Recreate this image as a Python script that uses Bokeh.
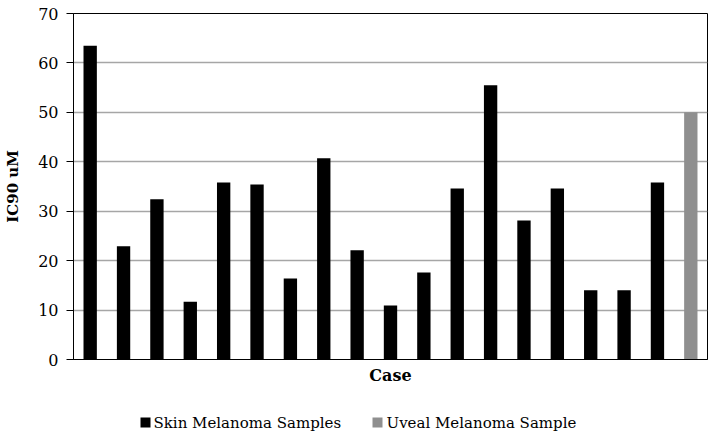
from bokeh.plotting import figure
from bokeh.models import Range1d, FixedTicker
from bokeh.core.properties import value
from bokeh.layouts import column
from bokeh.embed import file_html
from bokeh.resources import INLINE

cases = list(range(1, 20))
skin_cases = cases[:18]
skin_values = [63.5, 22.9, 32.4, 11.7, 35.8, 35.4, 16.4, 40.7, 22.1, 10.9,
               17.6, 34.6, 55.5, 28.1, 34.6, 14.0, 14.0, 35.8]
uveal_cases = [19]
uveal_values = [50.0]
y_ticks = [0, 10, 20, 30, 40, 50, 60, 70]
series_names = ["Skin Melanoma Samples", "Uveal Melanoma Sample"]
series_colors = ["black", "#8f8f8f"]

FONT = "DejaVu Serif"

p = figure(width=716, height=395, output_backend="svg", toolbar_location=None,
           x_range=Range1d(0.5, 19.5), y_range=Range1d(0, 70),
           min_border_left=73, min_border_right=9, min_border_top=13, min_border_bottom=36)

p.vbar(x=skin_cases, top=skin_values, width=0.4, bottom=0,
       fill_color=series_colors[0], line_color=None)
p.vbar(x=uveal_cases, top=uveal_values, width=0.4, bottom=0,
       fill_color=series_colors[1], line_color=None)

p.outline_line_color = "black"
p.outline_line_width = 1
p.xgrid.grid_line_color = None
p.ygrid.grid_line_color = "#a6a6a6"
p.ygrid.grid_line_width = 1.5
p.ygrid.ticker = FixedTicker(ticks=y_ticks)

p.yaxis.ticker = FixedTicker(ticks=y_ticks)
p.yaxis.axis_line_color = "black"
p.yaxis.major_tick_line_color = "black"
p.yaxis.major_tick_out = 7
p.yaxis.major_tick_in = 0
p.yaxis.minor_tick_line_color = None
p.yaxis.major_label_standoff = 8
p.yaxis.major_label_text_font = FONT
p.yaxis.major_label_text_font_size = "16px"
p.yaxis.major_label_text_color = "black"
p.yaxis.axis_label = "IC90 uM"
p.yaxis.axis_label_text_font = FONT
p.yaxis.axis_label_text_font_size = "15px"
p.yaxis.axis_label_text_font_style = "bold"
p.yaxis.axis_label_text_color = "black"
p.yaxis.axis_label_standoff = 13

p.xaxis.ticker = FixedTicker(ticks=[])
p.xaxis.major_label_text_font_size = "0px"
p.xaxis.axis_line_color = "black"
p.xaxis.major_tick_line_color = None
p.xaxis.minor_tick_line_color = None
p.xaxis.axis_label = "Case"
p.xaxis.axis_label_text_font = FONT
p.xaxis.axis_label_text_font_size = "16px"
p.xaxis.axis_label_text_font_style = "bold"
p.xaxis.axis_label_text_color = "black"
p.xaxis.axis_label_standoff = 6

# legend strip below the chart (its frame is aligned with the chart's frame,
# so the x range is expressed in page pixels: 73..707)
legend_square_x = [145, 377]
legend_text_x = [153, 386]
legend_y = [18, 18]

lp = figure(width=716, height=45, output_backend="svg", toolbar_location=None,
            x_range=Range1d(73, 707), y_range=Range1d(0, 45),
            x_axis_type=None, y_axis_type=None,
            min_border_left=0, min_border_right=0, min_border_top=0, min_border_bottom=0)
lp.outline_line_color = None
lp.xgrid.visible = False
lp.ygrid.visible = False
lp.rect(x=legend_square_x, y=legend_y, width=10, height=10,
        width_units="screen", height_units="screen",
        fill_color=series_colors, line_color=None)
lp.text(x=legend_text_x, y=legend_y, text=series_names,
        text_font=value(FONT), text_font_size="15px", text_color="black",
        text_align="left", text_baseline="middle")

layout = column(p, lp, spacing=0)
open("out.html", "w").write(file_html(layout, INLINE))
